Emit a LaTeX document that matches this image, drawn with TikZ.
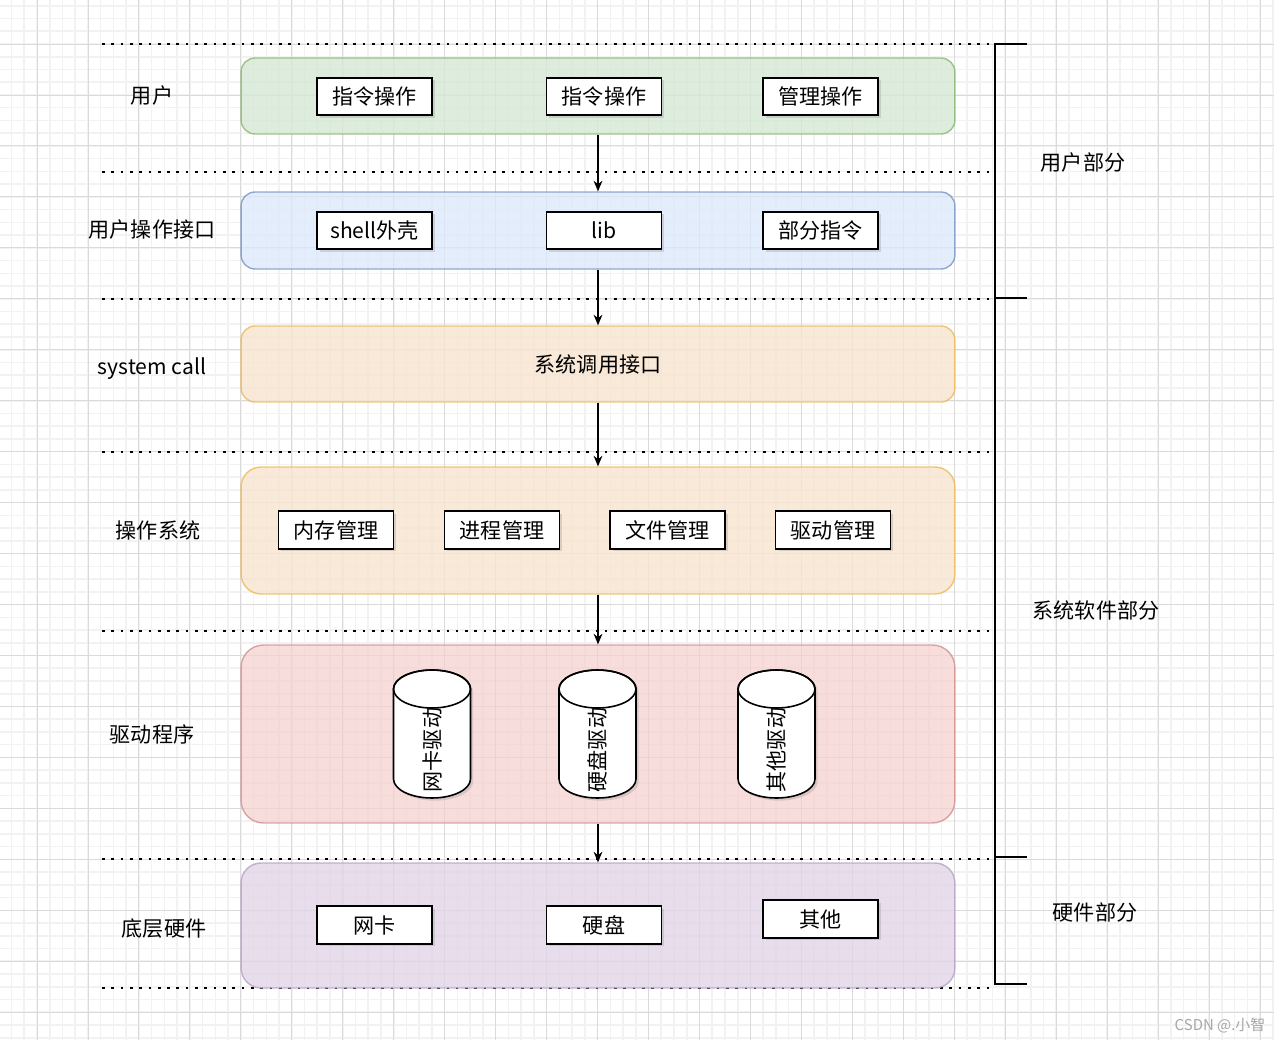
\documentclass[tikz,border=0pt]{standalone}
\usepackage{fontspec}
\setmainfont{Noto Sans CJK SC}
\usetikzlibrary{shadows,arrows.meta}
\definecolor{gfill}{HTML}{D5E8D4}\definecolor{gdraw}{HTML}{82B366}
\definecolor{bfill}{HTML}{DAE8FC}\definecolor{bdraw}{HTML}{6C8EBF}
\definecolor{ofill}{HTML}{F7E4CF}\definecolor{odraw}{HTML}{EDB54A}
\definecolor{rfill}{HTML}{F5CFCD}\definecolor{rdraw}{HTML}{D08A88}
\definecolor{pfill}{HTML}{E1D5E7}\definecolor{pdraw}{HTML}{B49BC4}
\definecolor{gridminor}{HTML}{F2F2F2}\definecolor{gridmajor}{HTML}{DADADA}
\tikzset{
  x=0.02cm, y=0.02cm,
  txt/.style={font=\fontsize{12}{14}\selectfont, inner sep=0pt},
  layer/.style={draw, line width=0.8pt, minimum width=14.28cm, fill opacity=0.8, draw opacity=0.75, text opacity=1, txt},
  ibox/.style={draw, fill=white, line width=1pt, minimum width=2.3cm, minimum height=0.75cm, txt,
    drop shadow={shadow xshift=1.5pt, shadow yshift=-1.5pt, opacity=0.25, fill=gray}},
  dotline/.style={line width=1.6pt, dash pattern=on 1.5pt off 3.8pt},
  bracket/.style={line width=1.1pt},
  arr/.style={line width=0.7pt, -{Stealth[length=6pt,width=5pt]}},
  cyl/.style={draw, fill=white, line width=0.9pt},
}
\newcommand{\mycyl}[1]{%
  \path[cyl, drop shadow={shadow xshift=1.5pt, shadow yshift=-1.5pt, opacity=0.25, fill=gray}]
    (#1-38.5,-689) -- (#1-38.5,-779)
    arc[start angle=180, end angle=360, x radius=0.77cm, y radius=0.38cm]
    -- (#1+38.5,-689)
    arc[start angle=0, end angle=180, x radius=0.77cm, y radius=0.38cm] -- cycle;
  \draw[line width=0.9pt] (#1,-689) ellipse[x radius=0.77cm, y radius=0.38cm];
}
\begin{document}
\begin{tikzpicture}
\useasboundingbox (0,0) rectangle (1274,-1040);
\fill[white] (0,0) rectangle (1274,-1040);
% grid
\foreach \i in {0,...,100}{
  \draw[gridminor, line width=0.9pt] ({-1.22+12.74*\i},0) -- ({-1.22+12.74*\i},-1040);}
\foreach \i in {0,...,82}{
  \draw[gridminor, line width=0.9pt] (0,{-5.78-12.74*\i}) -- (1274,{-5.78-12.74*\i});}
\foreach \k in {0,...,25}{
  \draw[gridmajor, line width=0.5pt] ({-13.96+50.96*\k},0) -- ({-13.96+50.96*\k},-1040);}
\foreach \k in {0,...,20}{
  \draw[gridmajor, line width=0.5pt] (0,{6.96-50.96*\k}) -- (1274,{6.96-50.96*\k});}

% dotted separators
\foreach \yy in {44,172,299,452,631,859,988}{
  \draw[dotline] (102,-\yy) -- (992,-\yy);}

% layers
\node[layer, fill=gfill, draw=gdraw, minimum height=1.52cm, rounded corners=0.28cm] (L1) at (598,-96) {};
\node[layer, fill=bfill, draw=bdraw, minimum height=1.54cm, rounded corners=0.28cm, fill opacity=0.75] (L2) at (598,-230.5) {};
\node[layer, fill=ofill, draw=odraw, minimum height=1.52cm, rounded corners=0.28cm] (L3) at (598,-364) {系统调用接口};
\node[layer, fill=ofill, draw=odraw, minimum height=2.54cm, rounded corners=0.4cm] (L4) at (598,-530.5) {};
\node[layer, fill=rfill, draw=rdraw, minimum height=3.56cm, rounded corners=0.45cm, fill opacity=0.7] (L5) at (598,-734) {};
\node[layer, fill=pfill, draw=pdraw, minimum height=2.5cm, rounded corners=0.4cm] (L6) at (598,-925.5) {};

% arrows
\draw[arr] (L1.south) -- (L2.north);
\draw[arr] (L2.south) -- (L3.north);
\draw[arr] (L3.south) -- (L4.north);
\draw[arr] (L4.south) -- (L5.north);
\draw[arr] (L5.south) -- (L6.north);

% row 1
\node[ibox] (u1) at (374.5,-96.5) {指令操作};
\node[ibox] (u2) at (604,-96.5) {指令操作};
\node[ibox] (u3) at (820.5,-96.5) {管理操作};
% row 2
\node[ibox] (i1) at (374.5,-230.5) {shell外壳};
\node[ibox] (i2) at (604,-230.5) {lib};
\node[ibox] (i3) at (820.5,-230.5) {部分指令};
% OS row
\node[ibox] (o1) at (336,-530) {内存管理};
\node[ibox] (o2) at (502,-530) {进程管理};
\node[ibox] (o3) at (667.5,-530) {文件管理};
\node[ibox] (o4) at (833,-530) {驱动管理};
% cylinders
\mycyl{432}
\mycyl{597.5}
\mycyl{776.5}
\node[txt, rotate=90] (d1) at (432,-750) {网卡驱动};
\node[txt, rotate=90] (d2) at (597.5,-750) {硬盘驱动};
\node[txt, rotate=90] (d3) at (776.5,-750) {其他驱动};
% hardware row
\node[ibox] (h1) at (374.5,-925) {网卡};
\node[ibox] (h2) at (604,-925) {硬盘};
\node[ibox] (h3) at (820.5,-919) {其他};

% left labels
\node[txt] (l1) at (152,-96) {用户};
\node[txt] (l2) at (152,-230) {用户操作接口};
\node[txt] (l3) at (152,-369) {system call};
\node[txt] (l4) at (158,-530) {操作系统};
\node[txt] (l5) at (152,-734) {驱动程序};
\node[txt] (l6) at (164,-929) {底层硬件};

% bracket
\coordinate (bT) at (995,-44);
\coordinate (bA) at (995,-298);
\coordinate (bB) at (995,-857);
\coordinate (bE) at (995,-984);
\draw[bracket] ([xshift=32*0.02cm]bT) -- (bT) -- (bE) -- ([xshift=32*0.02cm]bE);
\draw[bracket] (bA) -- ([xshift=32*0.02cm]bA);
\draw[bracket] (bB) -- ([xshift=32*0.02cm]bB);

% right labels
\node[txt] (r1) at (1083,-163) {用户部分};
\node[txt] (r2) at (1096,-610) {系统软件部分};
\node[txt] (r3) at (1095,-912) {硬件部分};

% watermark
\node[font=\fontsize{8.5}{10}\selectfont, text=gray!70, inner sep=0pt] (wm) at (1220,-1025) {CSDN @.小智};
\end{tikzpicture}
\end{document}
